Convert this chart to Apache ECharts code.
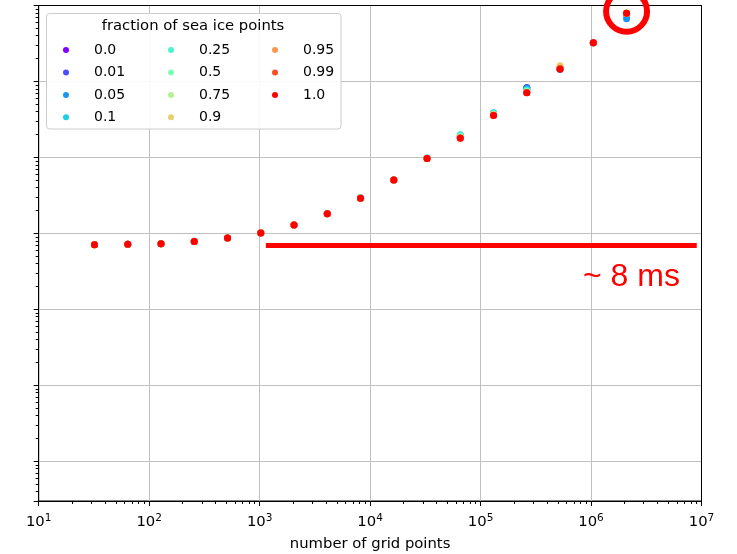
<!DOCTYPE html>
<html>
<head>
<meta charset="utf-8">
<script src="https://cdn.jsdelivr.net/npm/echarts@6/dist/echarts.min.js"></script>
<style>
  html, body { margin: 0; padding: 0; background: #fff; }
  #chart { width: 737px; height: 554px; }
</style>
</head>
<body>
<div id="chart"></div>
<script>
// number of grid points (x)
const nGridPoints = [32, 64, 128, 256, 512, 1024, 2048, 4096, 8192, 16384, 32768, 65536, 131072, 262144, 524288, 1048576, 2097152]

// run time (s) for every fraction of sea ice points
const f000 = [0.00712, 0.00718, 0.00731, 0.00784, 0.00866, 0.01013, 0.01284, 0.01812, 0.0292, 0.0505, 0.0975, 0.186, 0.372, 0.820, 1.47, 3.24, 7.80]
const f001 = [0.00713, 0.00720, 0.00733, 0.00786, 0.00868, 0.01016, 0.01287, 0.01818, 0.0291, 0.0504, 0.0972, 0.188, 0.375, 0.830, 1.46, 3.22, 7.60]
const f005 = [0.00711, 0.00719, 0.00732, 0.00785, 0.00867, 0.01014, 0.01285, 0.01815, 0.0292, 0.0503, 0.0971, 0.190, 0.380, 0.809, 1.45, 3.25, 6.68]
const f010 = [0.00714, 0.00722, 0.00734, 0.00787, 0.00869, 0.01017, 0.01288, 0.01820, 0.0293, 0.0506, 0.0976, 0.199, 0.387, 0.786, 1.47, 3.26, 7.70]
const f025 = [0.00712, 0.00718, 0.00733, 0.00786, 0.00868, 0.01015, 0.01290, 0.01822, 0.0294, 0.0505, 0.0980, 0.195, 0.380, 0.760, 1.48, 3.24, 7.85]
const f050 = [0.00711, 0.00717, 0.00732, 0.00785, 0.00867, 0.01014, 0.01287, 0.01817, 0.0292, 0.0504, 0.0974, 0.188, 0.370, 0.740, 1.52, 3.23, 7.90]
const f075 = [0.00710, 0.00717, 0.00731, 0.00785, 0.00866, 0.01015, 0.01286, 0.01816, 0.0291, 0.0503, 0.0972, 0.184, 0.365, 0.725, 1.60, 3.22, 7.88]
const f090 = [0.00711, 0.00716, 0.00732, 0.00784, 0.00867, 0.01016, 0.01286, 0.01815, 0.0291, 0.0503, 0.0971, 0.182, 0.362, 0.718, 1.61, 3.23, 7.95]
const f095 = [0.00710, 0.00717, 0.00732, 0.00785, 0.00867, 0.01015, 0.01286, 0.01816, 0.0291, 0.0503, 0.0970, 0.181, 0.360, 0.714, 1.50, 3.23, 7.90]
const f099 = [0.00710, 0.00717, 0.00732, 0.00785, 0.00867, 0.01015, 0.01286, 0.01816, 0.0291, 0.0503, 0.0970, 0.180, 0.358, 0.712, 1.47, 3.23, 7.92]
const f100 = [0.00710, 0.00717, 0.00732, 0.00785, 0.00867, 0.01015, 0.01286, 0.01816, 0.0291, 0.0503, 0.0970, 0.1795, 0.357, 0.710, 1.452, 3.23, 7.92]

const fractionNames = ['0.0', '0.01', '0.05', '0.1', '0.25', '0.5', '0.75', '0.9', '0.95', '0.99', '1.0']
const fractionValues = [f000, f001, f005, f010, f025, f050, f075, f090, f095, f099, f100]
// rainbow colormap, one step per fraction
const colors = ['#8000ff', '#4d4ffc', '#1a96f2', '#1acee3', '#4df3ce', '#80ffb4', '#b3f396', '#e6ce74', '#ff964f', '#ff4f28', '#ff0000']

// annotation: ~8 ms line and circled last point
const plateauLine = { from: 1140, to: 9.06e6, value: 0.0070 }
const circledPoint = [2097152, 8.4]

const font = 'DejaVu Sans'

// log minor ticks
const minorX = []
for (let e = 1; e < 7; e++) {
  for (let m = 2; m <= 9; m++) minorX.push(m * Math.pow(10, e))
}
const minorY = []
for (let e = -6; e <= 0; e++) {
  for (let m = 2; m <= 9; m++) {
    const v = m * Math.pow(10, e)
    if (v > 2.9e-6 && v < 10) minorY.push(v)
  }
}

const myChart = echarts.init(document.getElementById('chart'))

const series = fractionNames.map((name, k) => {
  const s = {
    name: name,
    type: 'scatter',
    symbol: 'circle',
    symbolSize: 7,
    itemStyle: { color: colors[k], opacity: 1 },
    emphasis: { disabled: true },
    data: nGridPoints.map((n, i) => [n, fractionValues[k][i]])
  }
  if (name === '1.0') {
    s.markLine = {
      silent: true,
      symbol: ['none', 'none'],
      label: { show: false },
      lineStyle: { color: '#ff0000', width: 5, type: 'solid', opacity: 1 },
      data: [[{ coord: [plateauLine.from, plateauLine.value] }, { coord: [plateauLine.to, plateauLine.value] }]]
    }
    s.markPoint = {
      silent: true,
      symbol: 'circle',
      symbolSize: 41,
      label: { show: false },
      itemStyle: { color: 'rgba(0,0,0,0)', borderColor: '#ff0000', borderWidth: 6, opacity: 1 },
      data: [{ coord: circledPoint }]
    }
  }
  return s
})

const legendBase = {
  orient: 'vertical',
  top: 43,
  padding: 0,
  itemWidth: 46,
  itemHeight: 6,
  itemGap: 8.45,
  icon: 'circle',
  selectedMode: false,
  textStyle: { fontFamily: font, fontSize: 14, color: '#000', lineHeight: 14 }
}

const option = {
  animation: false,
  grid: {
    left: 38.7,
    right: 35.5,
    top: 5.5,
    bottom: 53,
    outerBoundsMode: 'none',
    show: true,
    borderColor: '#000',
    borderWidth: 1
  },
  legend: [
    Object.assign({ left: 63, data: fractionNames.slice(0, 4) }, legendBase),
    Object.assign({ left: 168, data: fractionNames.slice(4, 8) }, legendBase),
    Object.assign({ left: 272, data: fractionNames.slice(8) }, legendBase)
  ],
  graphic: [
    {
      type: 'rect',
      z: 3,
      shape: { x: 46.5, y: 13.5, width: 294.5, height: 115.5, r: 3 },
      style: { fill: 'rgba(255,255,255,0.9)', stroke: '#cccccc', lineWidth: 1 }
    },
    {
      type: 'text',
      z: 5,
      x: 193,
      y: 26,
      style: {
        text: 'fraction of sea ice points',
        fontFamily: font,
        fontSize: 14.8,
        fill: '#000',
        align: 'center',
        verticalAlign: 'middle'
      }
    },
    {
      type: 'text',
      z: 5,
      x: 583,
      y: 277,
      style: {
        text: '~ 8 ms',
        fontFamily: 'Liberation Sans',
        fontSize: 32,
        fill: '#ff0000',
        align: 'left',
        verticalAlign: 'middle'
      }
    }
  ],
  xAxis: [
    {
      type: 'log',
      logBase: 10,
      min: 10,
      max: 1e7,
      name: 'number of grid points',
      nameLocation: 'middle',
      nameGap: 36,
      nameTextStyle: { fontFamily: font, fontSize: 14.8, color: '#000' },
      axisLine: { onZero: false, lineStyle: { color: '#000', width: 1 } },
      axisTick: { show: true, inside: false, length: 5, lineStyle: { color: '#000', width: 1 } },
      axisLabel: {
        margin: 12,
        formatter: function (v) {
          return '{b|10}{s|' + Math.round(Math.log10(v)) + '}'
        },
        rich: {
          b: { fontFamily: font, fontSize: 14.8, color: '#000' },
          s: { fontFamily: font, fontSize: 10.5, color: '#000', padding: [0, 0, 8, 0] }
        }
      },
      splitLine: { show: true, lineStyle: { color: '#c0c0c0', width: 1 } }
    },
    {
      type: 'log',
      logBase: 10,
      min: 10,
      max: 1e7,
      position: 'bottom',
      axisLine: { show: false, onZero: false },
      axisLabel: { show: false },
      splitLine: { show: false },
      axisTick: { show: true, inside: false, length: 3, customValues: minorX, lineStyle: { color: '#000', width: 1 } }
    },
    {
      type: 'log',
      logBase: 10,
      min: 10,
      max: 1e7,
      position: 'top',
      axisLine: { show: true, onZero: false, lineStyle: { color: '#000', width: 1 } },
      axisTick: { show: false },
      axisLabel: { show: false },
      splitLine: { show: false }
    }
  ],
  yAxis: [
    {
      type: 'log',
      logBase: 10,
      min: 3e-6,
      max: 10,
      splitNumber: 7,
      axisLine: { onZero: false, lineStyle: { color: '#000', width: 1 } },
      axisTick: { show: true, inside: false, length: 5, lineStyle: { color: '#000', width: 1 } },
      axisLabel: { show: false },
      splitLine: { show: true, lineStyle: { color: '#c0c0c0', width: 1 } }
    },
    {
      type: 'log',
      logBase: 10,
      min: 3e-6,
      max: 10,
      position: 'left',
      axisLine: { show: false, onZero: false },
      axisLabel: { show: false },
      splitLine: { show: false },
      axisTick: { show: true, inside: false, length: 3, customValues: minorY, lineStyle: { color: '#000', width: 1 } }
    },
    {
      type: 'log',
      logBase: 10,
      min: 3e-6,
      max: 10,
      position: 'right',
      axisLine: { show: true, onZero: false, lineStyle: { color: '#000', width: 1 } },
      axisTick: { show: false },
      axisLabel: { show: false },
      splitLine: { show: false }
    }
  ],
  series: series
}

myChart.setOption(option)
</script>
</body>
</html>
